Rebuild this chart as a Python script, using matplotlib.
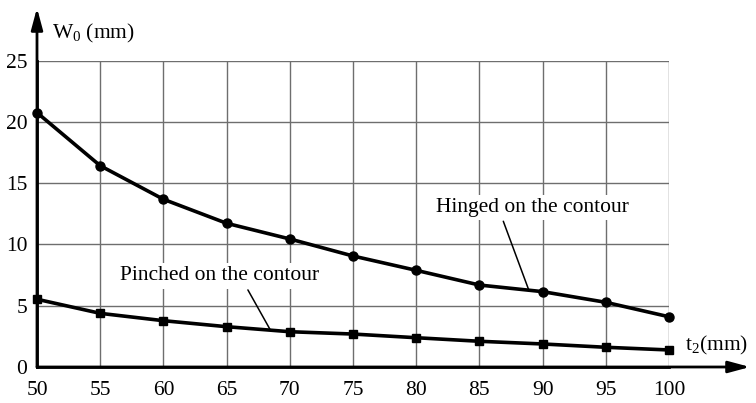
import matplotlib
matplotlib.use("Agg")
import matplotlib.pyplot as plt

t2 = [50, 55, 60, 65, 70, 75, 80, 85, 90, 95, 100]
hinged = [20.76, 16.43, 13.69, 11.73, 10.45, 9.06, 7.89, 6.69, 6.15, 5.28, 4.1]
pinched = [5.53, 4.38, 3.78, 3.29, 2.88, 2.69, 2.39, 2.1, 1.88, 1.61, 1.39]
xticks = [50, 55, 60, 65, 70, 75, 80, 85, 90, 95, 100]
yticks = [0, 5, 10, 15, 20, 25]

plt.rcParams['font.family'] = ['Liberation Serif', 'DejaVu Serif']
plt.rcParams['mathtext.fontset'] = 'custom'
plt.rcParams['mathtext.rm'] = 'Liberation Serif'
plt.rcParams['mathtext.it'] = 'Liberation Serif'

fig = plt.figure(figsize=(7.56, 4.03), dpi=100)
ax = fig.add_axes([37/756, 1-367/403, (669-37)/756, (367-60.7)/403])
ax.set_xlim(50, 100)
ax.set_ylim(0, 25)

grid_c = '#6e6e6e'
for x in xticks[1:]:
    ax.axvline(x, color=grid_c, lw=1.0, zorder=1)
for y in yticks[1:]:
    ax.axhline(y, color=grid_c, lw=1.0, zorder=1)

for s in ['top', 'right']:
    ax.spines[s].set_visible(False)
ax.spines['left'].set_linewidth(2.0)
ax.spines['bottom'].set_linewidth(2.0)
ax.spines['left'].set_zorder(5)
ax.spines['bottom'].set_zorder(5)

ax.set_xticks(xticks)
ax.set_yticks(yticks)
ax.tick_params(length=0, labelsize=15.5)
ax.tick_params(axis='x', pad=10)
ax.tick_params(axis='y', pad=7)

ax.plot(t2, hinged, color='black', lw=2.6, marker='o', ms=6.5, zorder=4, clip_on=False)
ax.plot(t2, pinched, color='black', lw=2.6, marker='s', ms=6, zorder=4, clip_on=False)

# axis arrows
ax.annotate('', xy=(750/756, 1-367/403), xycoords='figure fraction',
            xytext=(0, 0), textcoords='axes fraction',
            arrowprops=dict(arrowstyle='-|>,head_length=1.3,head_width=0.35', color='black', lw=2.0, shrinkA=0, shrinkB=0))
ax.annotate('', xy=(37/756, 1-8/403), xycoords='figure fraction',
            xytext=(0, 0), textcoords='axes fraction',
            arrowprops=dict(arrowstyle='-|>,head_length=1.3,head_width=0.35', color='black', lw=2.0, shrinkA=0, shrinkB=0))

fig.text(52/756, 1-33/403, r'W$_{0}$ (mm)', fontsize=15.5, ha='left', va='center')
fig.text(685/756, 1-345/403, r't$_{2}$(mm)', fontsize=15.5, ha='left', va='center')

ax.annotate('Hinged on the contour', xy=(88.9, 6.3), xytext=(89.2, 13.04),
            ha='center', va='center', fontsize=15.5,
            bbox=dict(boxstyle='square,pad=0.15', fc='white', ec='none'),
            arrowprops=dict(arrowstyle='-', color='black', lw=1.1, shrinkA=1, shrinkB=0,
                            relpos=(0.34, 0.0)),
            zorder=6, annotation_clip=False)
ax.annotate('Pinched on the contour', xy=(68.43, 3.08), xytext=(64.44, 7.43),
            ha='center', va='center', fontsize=15.5,
            bbox=dict(boxstyle='square,pad=0.15', fc='white', ec='none'),
            arrowprops=dict(arrowstyle='-', color='black', lw=1.1, shrinkA=1, shrinkB=0,
                            relpos=(0.63, 0.0)),
            zorder=6)

fig.savefig('out.png', dpi=100)
